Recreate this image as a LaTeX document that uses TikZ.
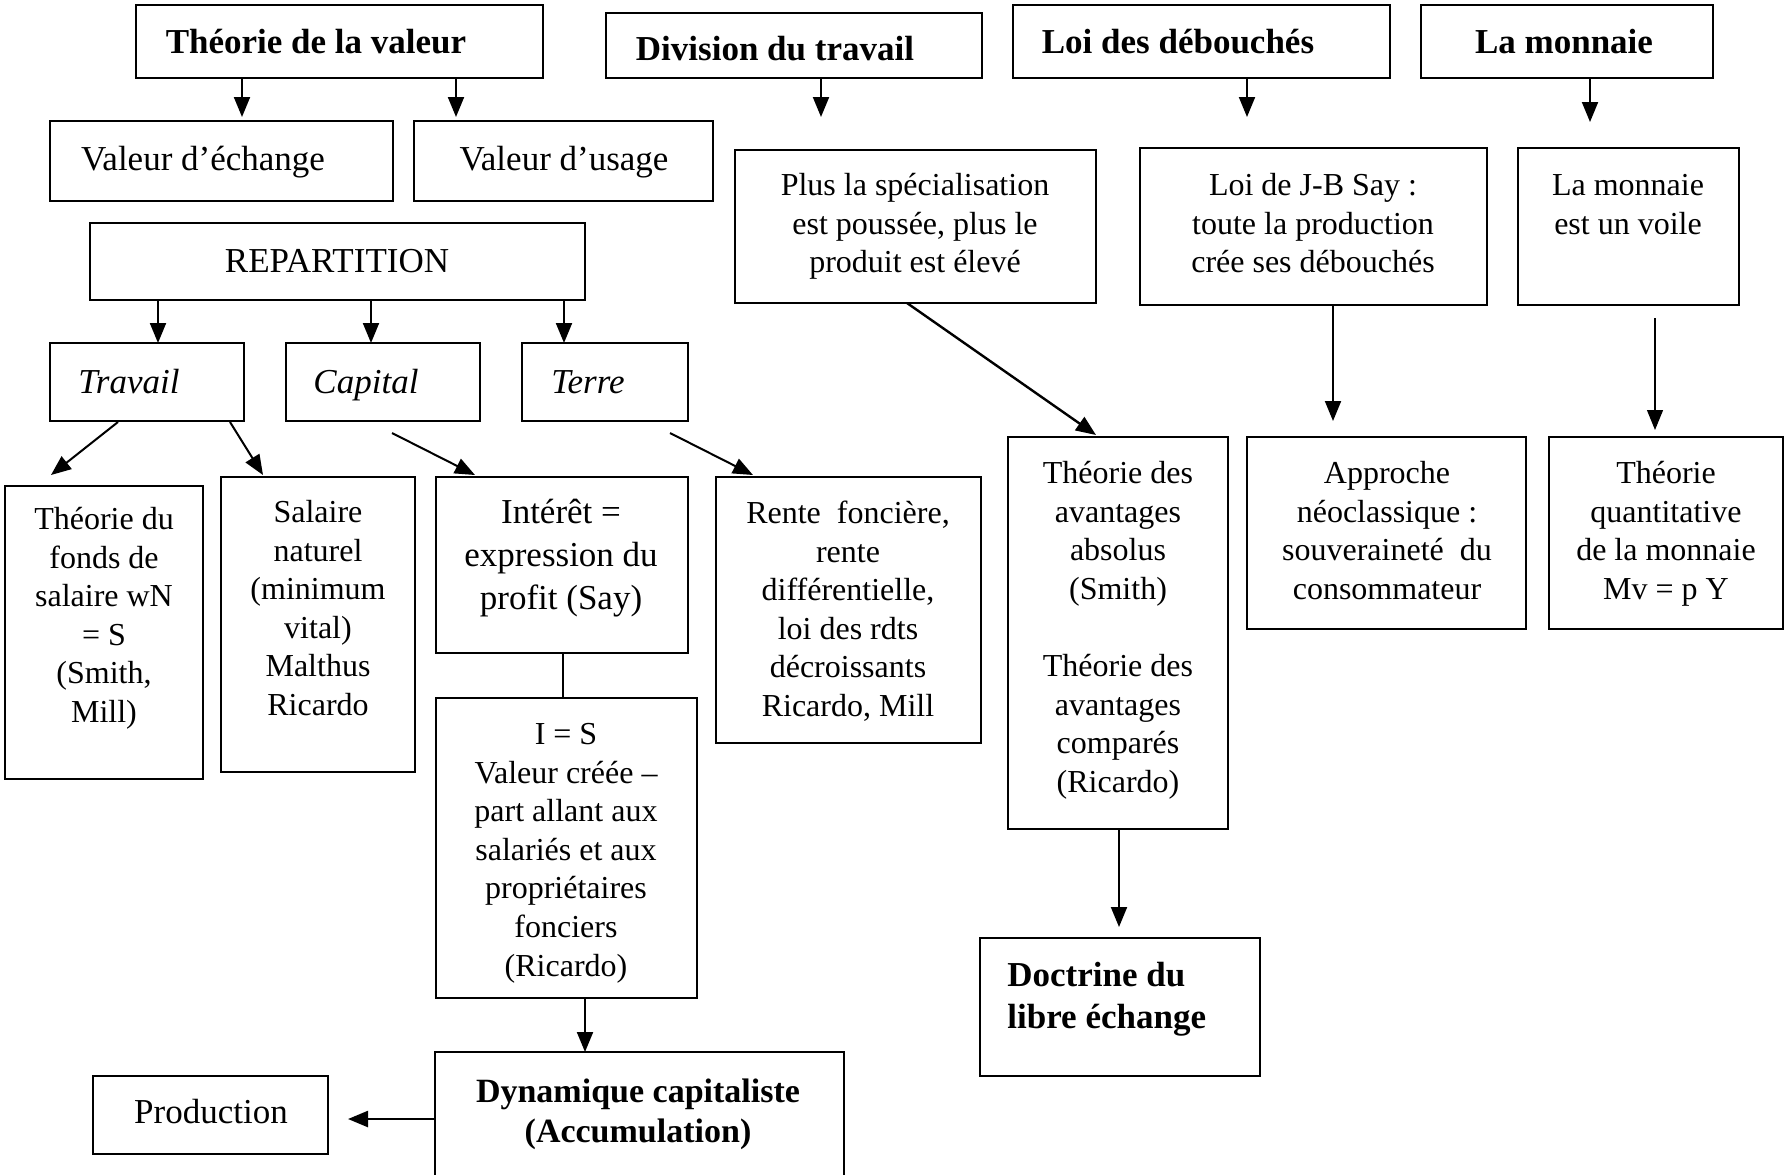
\documentclass[tikz,border=0pt]{standalone}
\usepackage{fontspec}
\setmainfont{Liberation Serif}
\usetikzlibrary{arrows.meta,calc}
\newcommand\fnorm{\fontsize{16}{19.3}\selectfont}
\newcommand\fbig{\fontsize{17.5}{21}\selectfont}
\newcommand\mybox[5]{\node[box, minimum width={(#4-#2)*0.5pt}, minimum height={(#5-#3)*0.5pt}] (#1) at ({(#2+#4)/2},{(#3+#5)/2}) {};}
\begin{document}
\begin{tikzpicture}[x=0.5pt,y=-0.5pt,
  box/.style={draw, line width=1pt, inner sep=0pt, outer sep=0pt},
  txt/.style={inner sep=0pt, align=center, font=\fnorm},
  big/.style={inner sep=0pt, font=\fbig},
  title/.style={inner sep=0pt, font=\fbig\bfseries},
  arr/.style={-{Triangle[length=10pt,width=8pt]}, line width=1pt},
  thinarr/.style={-{Triangle[length=10pt,width=8pt]}, line width=0.6pt}]
\useasboundingbox (0,0) rectangle (1787,1174);
\fill[white] (0,0) rectangle (1787,1174);
\clip (0,0) rectangle (1787,1174);

% boxes
\mybox{val}{136}{5}{543}{78}
\mybox{div}{606}{13}{982}{78}
\mybox{deb}{1013}{5}{1390}{78}
\mybox{mon}{1421}{5}{1713}{78}
\mybox{ech}{50}{121}{393}{201}
\mybox{usa}{414}{121}{713}{201}
\mybox{rep}{90}{223}{585}{300}
\mybox{tra}{50}{343}{244}{421}
\mybox{cap}{286}{343}{480}{421}
\mybox{ter}{522}{343}{688}{421}
\mybox{spe}{735}{150}{1096}{303}
\mybox{say}{1140}{148}{1487}{305}
\mybox{voi}{1518}{148}{1739}{305}
\mybox{fon}{5}{486}{203}{779}
\mybox{sal}{221}{477}{415}{772}
\mybox{int}{436}{477}{688}{653}
\mybox{ies}{436}{698}{697}{998}
\mybox{ren}{716}{477}{981}{743}
\mybox{ava}{1008}{437}{1228}{829}
\mybox{app}{1247}{437}{1526}{629}
\mybox{qua}{1549}{437}{1783}{629}
\mybox{doc}{980}{938}{1260}{1076}
\mybox{dyn}{435}{1052}{844}{1200}
\mybox{pro}{93}{1076}{328}{1154}

% texts
\node[title, anchor=base] (t-val) at (316,53) {Théorie de la valeur};
\node[title, anchor=base] (t-div) at (775,60) {Division du travail};
\node[title, anchor=base] (t-deb) at (1178,53) {Loi des débouchés};
\node[title, anchor=base] (t-mon) at (1564,53) {La monnaie};
\node[big, anchor=base] (t-ech) at (203,170) {Valeur d’échange};
\node[big, anchor=base] (t-usa) at (564,170) {Valeur d’usage};
\node[big, anchor=base] (t-rep) at (337,272) {REPARTITION};
\node[big, anchor=base, font=\fbig\itshape] (t-tra) at (129,393) {Travail};
\node[big, anchor=base, font=\fbig\itshape] (t-cap) at (366,393) {Capital};
\node[big, anchor=base, font=\fbig\itshape] (t-ter) at (588,393) {Terre};
\node[txt, anchor=north] (t-spe) at (915,168) {\strut Plus la spécialisation\\est poussée, plus le\\produit est élevé};
\node[txt, anchor=north] (t-say) at (1313,168) {\strut Loi de J-B Say :\\toute la production\\crée ses débouchés};
\node[txt, anchor=north] (t-voi) at (1628,168) {\strut La monnaie\\est un voile};
\node[txt, anchor=north] (t-fon) at (104,502) {\strut Théorie du\\fonds de\\salaire wN\\= S\\(Smith,\\Mill)};
\node[txt, anchor=north] (t-sal) at (318,495) {\strut Salaire\\naturel\\(minimum\\vital)\\Malthus\\Ricardo};
\node[txt, anchor=north, font={\fontsize{17.5}{21.5}\selectfont}] (t-int) at (561,493) {\strut Intérêt =\\expression du\\profit (Say)};
\node[txt, anchor=north] (t-ren) at (848,496) {\strut Rente\ \ foncière,\\rente\\différentielle,\\loi des rdts\\décroissants\\Ricardo, Mill};
\node[txt, anchor=north] (t-ies) at (566,717) {\strut I = S\\Valeur créée –\\part allant aux\\salariés et aux\\propriétaires\\fonciers\\(Ricardo)};
\node[txt, anchor=north] (t-ava) at (1118,456) {\strut Théorie des\\avantages\\absolus\\(Smith)\\\mbox{}\\Théorie des\\avantages\\comparés\\(Ricardo)};
\node[txt, anchor=north] (t-app) at (1387,456) {\strut Approche\\néoclassique :\\souveraineté\ \ du\\consommateur};
\node[txt, anchor=north] (t-qua) at (1666,456) {\strut Théorie\\quantitative\\de la monnaie\\Mv = p Y};
\node[inner sep=0pt, align=left, anchor=north west, font={\fontsize{17.5}{21}\selectfont\bfseries}] (t-doc) at (1007,957) {\strut Doctrine du\\libre échange};
\node[inner sep=0pt, align=center, anchor=north, font={\fontsize{17}{20}\selectfont\bfseries}] (t-dyn) at (638,1074) {\strut Dynamique capitaliste\\(Accumulation)};
\node[big, anchor=base] (t-pro) at (211,1123) {Production};

% connectors
\draw[arr] ($(val.south west)+(106,0)$) -- ($(ech.north west)+(192,-4)$);
\draw[arr] ($(val.south west)+(320,0)$) -- ($(usa.north west)+(42,-4)$);
\draw[arr] ($(rep.south west)+(68,0)$) -- ($(tra.north west)+(108,0)$);
\draw[arr] ($(rep.south west)+(281,0)$) -- ($(cap.north west)+(85,0)$);
\draw[arr] ($(rep.south west)+(474,0)$) -- ($(ter.north west)+(42,0)$);
\draw[arr] ($(div.south west)+(215,0)$) -- ($(spe.north west)+(86,-33)$);
\draw[arr] ($(deb.south west)+(234,0)$) -- ($(say.north west)+(107,-31)$);
\draw[arr] ($(mon.south west)+(169,0)$) -- ($(voi.north west)+(72,-26)$);
\draw[arr] ($(tra.south west)+(68,1)$) -- ($(fon.north west)+(46,-11)$);
\draw[arr] ($(tra.south west)+(180,1)$) -- ($(sal.north west)+(42,-2)$);
\draw[arr] ($(cap.south west)+(106,12)$) -- ($(int.north west)+(39,-2)$);
\draw[arr] ($(ter.south west)+(148,12)$) -- ($(ren.north west)+(37,-2)$);
\draw[arr, line width=1.2pt] ($(spe.south west)+(172,0)$) -- ($(ava.north west)+(88,-2)$);
\draw[arr] ($(say.south west)+(193,0)$) -- ($(app.north west)+(86,-16)$);
\draw[thinarr] ($(voi.south west)+(137,13)$) -- ($(qua.north west)+(106,-7)$);
\draw[arr] ($(ava.south west)+(111,0)$) -- ($(doc.north west)+(139,-11)$);
\draw[line width=0.7pt] ($(int.south west)+(127,0)$) -- ($(ies.north west)+(127,0)$);
\draw[arr] ($(ies.south west)+(149,0)$) -- ($(dyn.north west)+(150,0)$);
\draw[arr, line width=1.2pt] ($(dyn.north west)+(0,67)$) -- ($(pro.north east)+(20,43)$);
\end{tikzpicture}
\end{document}
